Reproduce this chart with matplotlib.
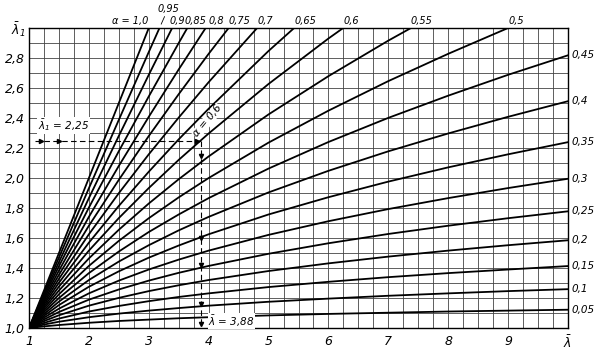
import numpy as np
import matplotlib
matplotlib.use('Agg')
import matplotlib.pyplot as plt

# lambda values along the abscissa where the curves were read
lam = [1, 1.25, 1.5, 2, 2.5, 3, 3.5, 4, 5, 6, 7, 8, 9, 10]

alphas = [0.05, 0.1, 0.15, 0.2, 0.25, 0.3, 0.35, 0.4, 0.45, 0.5,
          0.55, 0.6, 0.65, 0.7, 0.75, 0.8, 0.85, 0.9, 0.95, 1.0]

# lambda_1 for each alpha (rows stop once past 3.0)
lam1 = [
    [1, 1.011, 1.020, 1.035, 1.047, 1.056, 1.065, 1.072, 1.084, 1.094, 1.102, 1.110, 1.116, 1.122],
    [1, 1.023, 1.042, 1.072, 1.096, 1.116, 1.133, 1.149, 1.175, 1.196, 1.215, 1.231, 1.246, 1.259],
    [1, 1.034, 1.063, 1.110, 1.147, 1.179, 1.207, 1.231, 1.273, 1.308, 1.339, 1.366, 1.390, 1.413],
    [1, 1.046, 1.085, 1.149, 1.201, 1.246, 1.285, 1.320, 1.380, 1.431, 1.476, 1.516, 1.552, 1.585],
    [1, 1.057, 1.107, 1.189, 1.257, 1.316, 1.368, 1.414, 1.495, 1.565, 1.627, 1.682, 1.732, 1.778],
    [1, 1.069, 1.129, 1.231, 1.316, 1.390, 1.456, 1.516, 1.621, 1.712, 1.793, 1.866, 1.933, 1.995],
    [1, 1.081, 1.153, 1.275, 1.378, 1.469, 1.550, 1.625, 1.757, 1.872, 1.976, 2.071, 2.158, 2.239],
    [1, 1.093, 1.176, 1.320, 1.443, 1.552, 1.651, 1.741, 1.904, 2.048, 2.178, 2.297, 2.408, 2.512],
    [1, 1.106, 1.200, 1.366, 1.510, 1.640, 1.757, 1.866, 2.063, 2.240, 2.401, 2.549, 2.688, 2.818],
    [1, 1.118, 1.225, 1.414, 1.581, 1.732, 1.871, 2.000, 2.236, 2.449, 2.646, 2.828, 3.000],
    [1, 1.131, 1.250, 1.464, 1.655, 1.830, 1.992, 2.144, 2.424, 2.679, 2.916, 3.138],
    [1, 1.143, 1.276, 1.516, 1.733, 1.933, 2.121, 2.297, 2.627, 2.930, 3.214],
    [1, 1.156, 1.302, 1.569, 1.814, 2.042, 2.258, 2.462, 2.847, 3.205],
    [1, 1.169, 1.328, 1.625, 1.899, 2.158, 2.403, 2.639, 3.085],
    [1, 1.182, 1.355, 1.682, 1.988, 2.280, 2.559, 2.828, 3.344],
    [1, 1.195, 1.383, 1.741, 2.081, 2.408, 2.724, 3.031],
    [1, 1.209, 1.412, 1.803, 2.179, 2.544, 2.900, 3.249],
    [1, 1.222, 1.440, 1.866, 2.281, 2.688, 3.088],
    [1, 1.236, 1.470, 1.932, 2.388, 2.840, 3.288],
    [1, 1.25, 1.5, 2.0, 2.5, 3.0],
]

# worked example
ex_lam = 3.88
ex_lam1 = 2.25

def fmt(a):
    if a == 1.0:
        return '1,0'
    return ('%.2f' % a).rstrip('0').replace('.', ',')

plt.rcParams['font.family'] = ['Liberation Sans Narrow', 'DejaVu Sans']
plt.rcParams['font.style'] = 'italic'
plt.rcParams['mathtext.fontset'] = 'dejavusans'

fig = plt.figure(figsize=(5.97, 3.54), dpi=100)
ax = fig.add_axes([0.0486, 0.0734, 0.9028, 0.8475])
ax.set_xlim(1, 10)
ax.set_ylim(1, 3)

ax.set_xticks(np.arange(1, 10.01, 0.25), minor=True)
ax.set_yticks(np.arange(1, 3.001, 0.1), minor=True)
ax.grid(which='both', color='#444444', lw=0.6)
ax.set_axisbelow(True)
ax.tick_params(which='both', length=0, labelsize=9)

xt = list(range(1, 11))
ax.set_xticks(xt)
ax.set_xticklabels([str(v) for v in xt[:-1]] + [r'$\bar{\lambda}$'])
yt = [1.0, 1.2, 1.4, 1.6, 1.8, 2.0, 2.2, 2.4, 2.6, 2.8, 3.0]
ax.set_yticks(yt)
ax.set_yticklabels([('%.1f' % v).replace('.', ',') for v in yt[:-1]] + [r'$\bar{\lambda}_1$'])
ax.tick_params(axis='x', pad=5)
ax.tick_params(axis='y', pad=3)
for s in ax.spines.values():
    s.set_linewidth(1.0)

lab_fs = 7.5
top_fs = 7
nudges = {0.9: -0.04, 0.85: -0.04, 0.8: 0.04}
for a, row in zip(alphas, lam1):
    x = lam[:len(row)]
    ax.plot(x, row, color='black', lw=1.3, clip_on=True)
    if row[-1] >= 3.0:
        xc = np.interp(3.0, row, x)
        if a == 1.0:
            ax.text(xc, 3.015, 'α = ' + fmt(a), ha='right', va='bottom', fontsize=top_fs)
        elif a == 0.95:
            ax.annotate(fmt(a), xy=(xc, 3.0), xytext=(xc - 0.04, 3.095),
                        ha='left', va='bottom', fontsize=top_fs, annotation_clip=False,
                        arrowprops=dict(arrowstyle='-', lw=0.6, shrinkA=0, shrinkB=3))
        else:
            ax.text(xc + nudges.get(a, 0.0), 3.015, fmt(a), ha='left', va='bottom',
                    fontsize=top_fs)
    else:
        ax.text(10.06, row[-1], fmt(a), ha='left', va='center', fontsize=lab_fs)

# example construction
ax.plot([1.1, ex_lam], [ex_lam1, ex_lam1], color='black', lw=0.8, dashes=(5, 3))
ax.plot([ex_lam, ex_lam], [ex_lam1, 1.0], color='black', lw=0.8, dashes=(5, 3))
ax.plot([1.2, 1.5, 3.8], [ex_lam1] * 3, ls='none', marker='>', ms=3, color='black')
ax.plot([ex_lam] * 5, [2.15, 1.6, 1.42, 1.16, 1.03], ls='none', marker='v', ms=3, color='black')
ax.text(1.15, 2.35, r'$\bar{\lambda}_1$ = 2,25', fontsize=7.5, ha='left', va='center',
        bbox=dict(fc='white', ec='none', pad=0.5))
ax.text(3.98, 2.38, 'α = 0,6', fontsize=7.5, rotation=50, ha='center', va='center',
        bbox=dict(fc='white', ec='none', pad=0.3))
ax.text(4.38, 1.045, r'$\bar{\lambda}$ = 3,88', fontsize=7.5, ha='center', va='center',
        bbox=dict(fc='white', ec='none', pad=0.3))

fig.savefig('out.png', dpi=100)
